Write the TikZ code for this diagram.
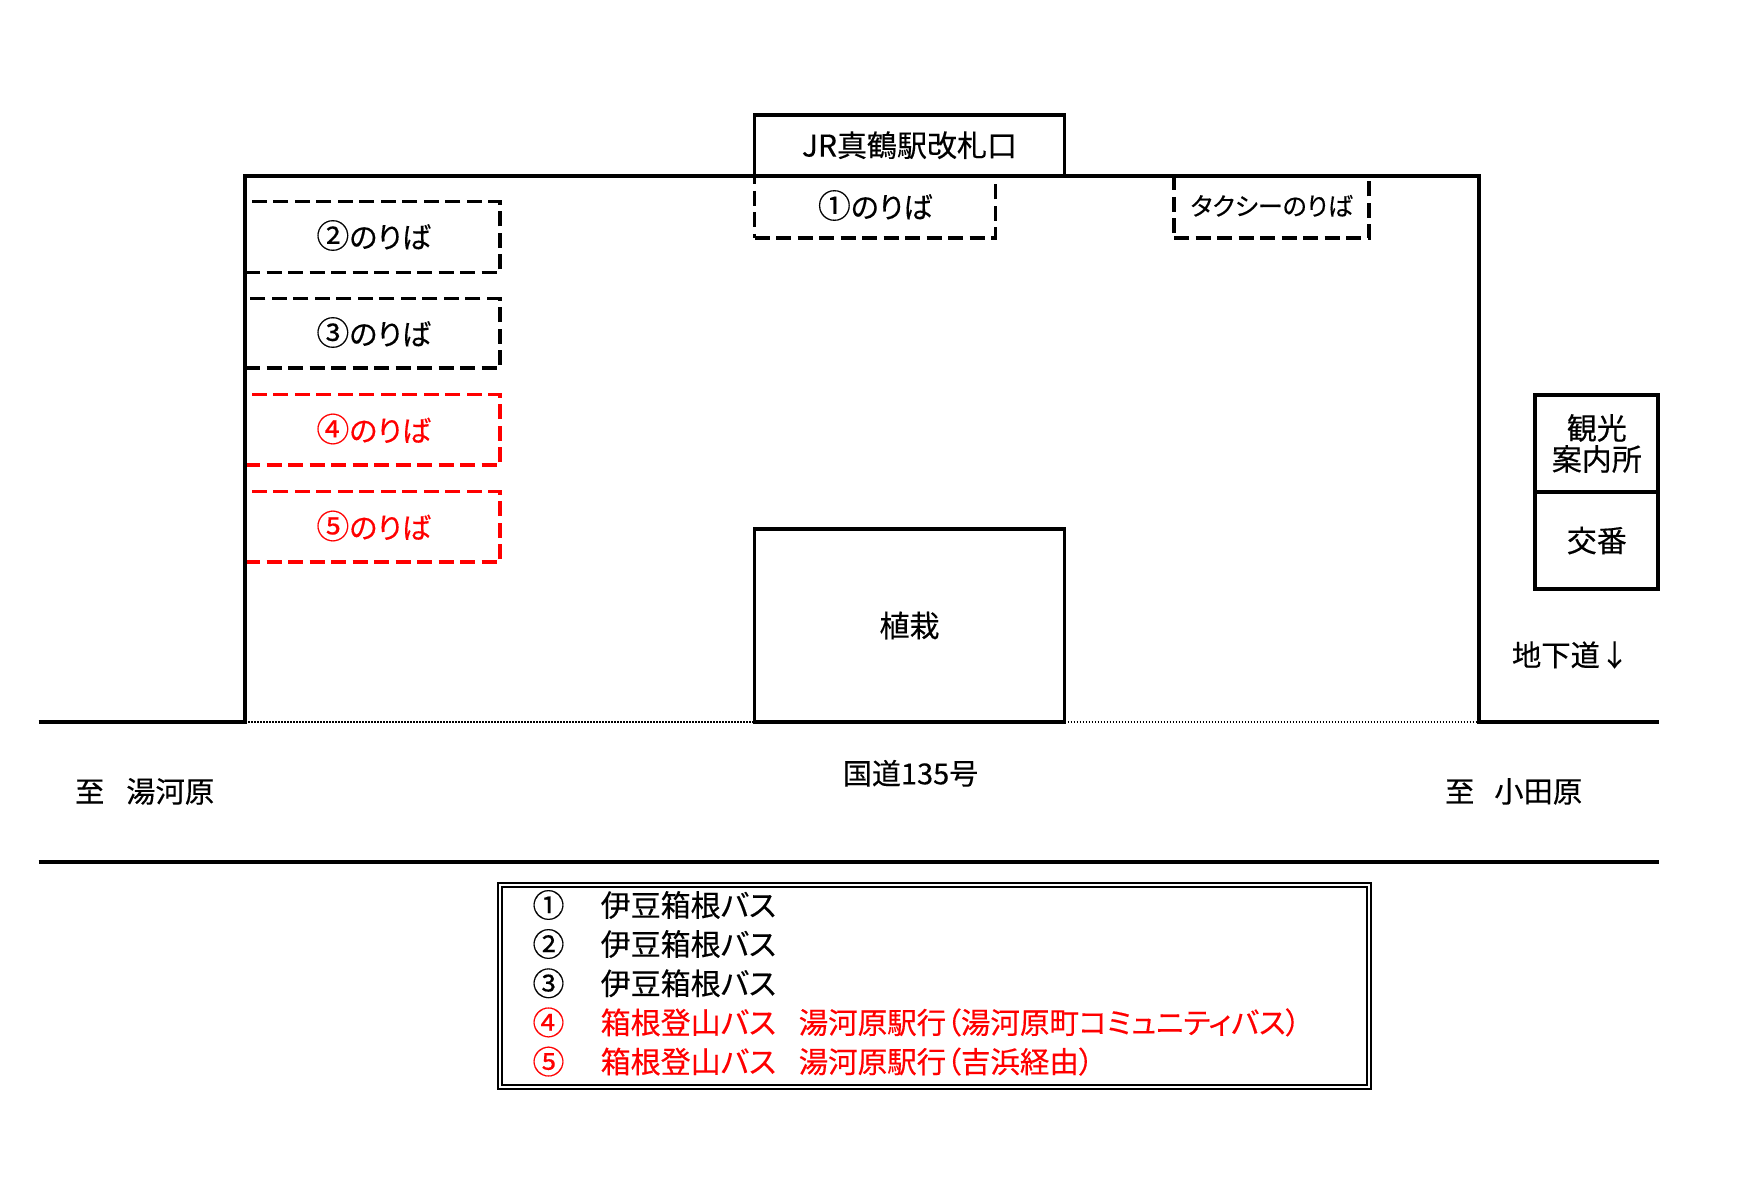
\documentclass[tikz,border=0pt]{standalone}
\usepackage{fontspec}
\setmainfont{Noto Sans CJK JP}[RawFeature=+palt,FakeBold=0.3]
\newfontfamily\jpfull{Noto Sans CJK JP}[FakeBold=0.3]
\definecolor{busred}{RGB}{255,0,0}
\newcommand{\circd}[1]{{\fontsize{33}{33}\selectfont #1}}
\tikzset{
  x=1pt,y=-1pt,
  every node/.style={font=\fontsize{30}{32}\selectfont,inner sep=0pt,outer sep=0pt,align=center},
  wall/.style={draw=black,line width=3.7pt,line join=miter},
  solidbox/.style={draw=black,line width=3.7pt,fill=white,anchor=center},
  stopbox/.style={draw=#1,line width=3.5pt,dash pattern=on 15pt off 6.5pt,anchor=center},
  stopbox/.default=black,
  stoplabel/.style={anchor=center,text=#1,font=\fontsize{29}{32}\selectfont},
  stoplabel/.default=black,
  kerb/.style={draw=black,line width=1.1pt,dash pattern=on 1.5pt off 1.5pt},
  legendbox/.style={draw=black,line width=1.3pt,double,double distance=2.6pt,anchor=center},
  lab/.style={anchor=center,font=\fontsize{29}{32}\selectfont},
  side/.style={anchor=west,font=\fontsize{29.3}{32}\selectfont},
  legendnum/.style={anchor=center,font=\fontsize{32}{32}\selectfont},
  legendtxt/.style={anchor=west},
  legenddest/.style={anchor=west,text=busred,font=\fontsize{29.5}{32}\selectfont},
}
\begin{document}
\begin{tikzpicture}
\useasboundingbox (0,0) rectangle (1754,1180);
% coordinates
\coordinate (roadL) at (38.6,722);
\coordinate (wallBL) at (245,722);
\coordinate (wallTL) at (245,175.7);
\coordinate (wallTR) at (1479,175.7);
\coordinate (wallBR) at (1479,722);
\coordinate (roadR) at (1659,722);
\coordinate (roadL2) at (38.6,862);
\coordinate (roadR2) at (1659,862);
% stops
\node[stopbox,minimum width=241pt,minimum height=62pt] (s1) at (875,206.8) {};
\node[stopbox,minimum width=255pt,minimum height=70.6pt] (s2) at (372.5,237) {};
\node[stopbox,minimum width=255pt,minimum height=69.4pt] (s3) at (372.5,333.4) {};
\node[stopbox=busred,minimum width=255pt,minimum height=70.6pt] (s4) at (372.5,429.7) {};
\node[stopbox=busred,minimum width=255pt,minimum height=70.6pt] (s5) at (372.5,526.7) {};
\node[stopbox,minimum width=195pt,minimum height=62pt] (taxi) at (1271.6,206.8) {};
\node[stoplabel] (l1) at (875,205.5) {\circd{①}のりば};
\node[stoplabel] (l2) at (373.5,235.5) {\circd{②}のりば};
\node[stoplabel] (l3) at (373.5,332.5) {\circd{③}のりば};
\node[stoplabel=busred] (l4) at (373.5,429) {\circd{④}のりば};
\node[stoplabel=busred] (l5) at (373.5,526) {\circd{⑤}のりば};
\node[stoplabel,font=\fontsize{25}{30}\selectfont] (ltaxi) at (1271.6,205.8) {タクシーのりば};
% station gate and planting
\node[solidbox,minimum width=310pt,minimum height=61pt] (gate) at (909.5,145.2) {JR真鶴駅改札口};
\node[solidbox,minimum width=310pt,minimum height=193pt] (plant) at (909.5,625.5) {植栽};
% kerb
\draw[kerb] (wallBL) -- (plant.south west);
\draw[kerb] (plant.south east) -- (wallBR);
% walls and road
\draw[wall] (roadL) -- (wallBL) -- (wallTL) -- (wallTR) -- (wallBR) -- (roadR);
\draw[wall] (roadL2) -- (roadR2);
% kiosks
\node[solidbox,minimum width=123pt,minimum height=97pt] (info) at (1596.8,443.5) {\jpfull 観光\\[-1pt]\jpfull 案内所};
\node[solidbox,minimum width=123pt,minimum height=96.7pt] (koban) at (1596.8,540.5) {\jpfull 交番};
% labels
\node[side] (under) at (1512,655) {\jpfull 地下道↓};
\node[lab] (r135) at (910.6,773.3) {国道135号};
\node[side] (yugawara) at (75,791.4) {至\hspace{22pt}湯河原};
\node[side] (odawara) at (1445,791.4) {\jpfull 至\hspace{20pt}小田原};
% legend
\node[legendbox,minimum width=869pt,minimum height=202pt] (legend) at (934.4,986) {};
\node[legendnum] (n1) at (548.5,905) {①};
\node[legendnum] (n2) at (548.5,944) {②};
\node[legendnum] (n3) at (548.5,983.3) {③};
\node[legendnum,text=busred] (n4) at (548.5,1022.4) {④};
\node[legendnum,text=busred] (n5) at (548.5,1061.6) {⑤};
\node[legendtxt] (t1) at (600.7,905) {伊豆箱根バス};
\node[legendtxt] (t2) at (600.7,944) {伊豆箱根バス};
\node[legendtxt] (t3) at (600.7,983.3) {伊豆箱根バス};
\node[legendtxt,text=busred] (t4) at (600.7,1022.4) {箱根登山バス};
\node[legendtxt,text=busred] (t5) at (600.7,1061.6) {箱根登山バス};
\node[legenddest] (d4) at (798.7,1022.4) {湯河原駅行（湯河原町コミュニティバス）};
\node[legenddest] (d5) at (798.7,1061.6) {湯河原駅行（吉浜経由）};
\end{tikzpicture}
\end{document}
